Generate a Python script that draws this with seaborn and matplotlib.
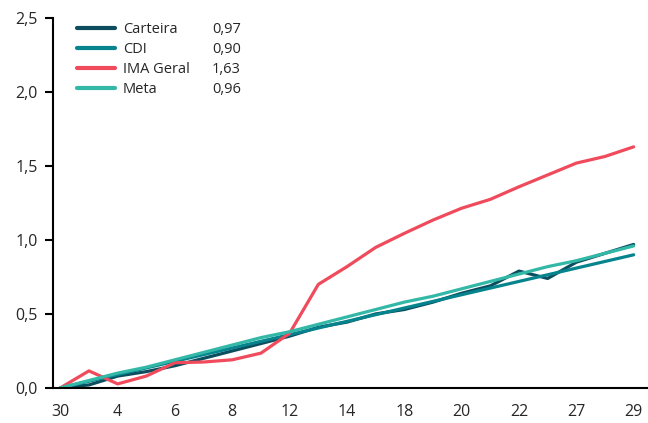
import numpy as np
import pandas as pd
import matplotlib
matplotlib.use("Agg")
import matplotlib.pyplot as plt
import seaborn as sns

# Dias úteis do mês (rótulos só a cada dois pontos)
dias = ["30", "3", "4", "5", "6", "7", "8", "11", "12", "13", "14",
        "15", "18", "19", "20", "21", "22", "26", "27", "28", "29"]

carteira = [0.00, 0.02, 0.08, 0.11, 0.15, 0.20, 0.25, 0.30, 0.35, 0.41, 0.445,
            0.50, 0.53, 0.58, 0.64, 0.69, 0.79, 0.74, 0.85, 0.91, 0.97]
cdi = [0.00, 0.045, 0.09, 0.135, 0.18, 0.225, 0.27, 0.315, 0.36, 0.405, 0.45,
       0.495, 0.54, 0.585, 0.63, 0.675, 0.72, 0.765, 0.81, 0.855, 0.90]
ima_geral = [0.00, 0.115, 0.027, 0.08, 0.17, 0.175, 0.19, 0.235, 0.37, 0.70, 0.82,
             0.95, 1.045, 1.135, 1.215, 1.275, 1.36, 1.44, 1.52, 1.565, 1.63]
meta = [0.00, 0.05, 0.10, 0.14, 0.19, 0.24, 0.29, 0.34, 0.38, 0.43, 0.48,
        0.53, 0.58, 0.62, 0.67, 0.72, 0.77, 0.82, 0.86, 0.91, 0.96]

series = ["Carteira", "CDI", "IMA Geral", "Meta"]
finais = ["0,97", "0,90", "1,63", "0,96"]
cores = ["#0c4d5e", "#05848e", "#ef4b5c", "#33b8a7"]

df = pd.concat([
    pd.DataFrame({"pos": np.arange(len(dias)), "valor": v, "serie": s})
    for s, v in zip(series, [carteira, cdi, ima_geral, meta])
])

sns.set_style("white")
plt.rcParams["font.family"] = ["Open Sans", "DejaVu Sans"]

fig = plt.figure(figsize=(6.48, 4.23), dpi=100)
ax = fig.add_axes([0.082, 0.083, 0.918, 0.874])

sns.lineplot(data=df, x="pos", y="valor", hue="serie", palette=cores,
             linewidth=2.3, ax=ax, legend=False)

ax.set_xlim(-0.25, 20.5)
ax.set_ylim(0, 2.5)
ax.set_yticks(np.arange(0, 2.51, 0.5))
ax.set_yticklabels([f"{t:.1f}".replace(".", ",") for t in np.arange(0, 2.51, 0.5)],
                   fontsize=11.5)
ax.set_xticks(np.arange(0, len(dias), 2))
ax.set_xticklabels(dias[::2], fontsize=11.5)
ax.set_xlabel("")
ax.set_ylabel("")

ax.spines["top"].set_visible(False)
ax.spines["right"].set_visible(False)
for sp in ["left", "bottom"]:
    ax.spines[sp].set_color("black")
    ax.spines[sp].set_linewidth(1.5)
ax.tick_params(axis="y", left=True, length=6, width=1.5, color="black", pad=5)
ax.tick_params(axis="x", bottom=False, pad=8)

# Legenda com valor acumulado
handles = [plt.Line2D([], [], color=c, linewidth=3) for c in cores]
leg = ax.legend(handles, series, loc="upper left", bbox_to_anchor=(0.03, 1.006),
                frameon=False, fontsize=10.5, handlelength=2.6,
                labelspacing=0.35, handletextpad=0.55, borderaxespad=0)
fig.canvas.draw()
for txt, val in zip(leg.get_texts(), finais):
    bb = txt.get_window_extent()
    ycen = (bb.y0 + bb.y1) / 2
    ax.text(212, ycen, val, transform=None, fontsize=10.5, va="center", ha="left")

fig.savefig("out.png", dpi=100)
